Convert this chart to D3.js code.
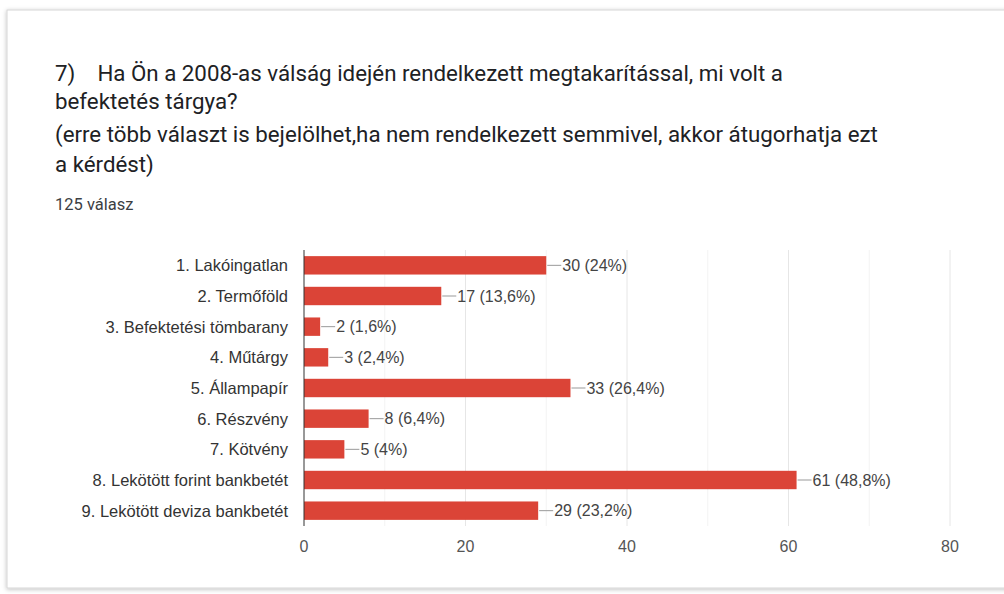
<!DOCTYPE html>
<html><head><meta charset="utf-8">
<script src="https://cdn.jsdelivr.net/npm/d3@7"></script>
<style>body{margin:0;background:#fff;} svg{display:block;}</style>
</head><body>
<svg id="c" width="1004" height="594"></svg>
<script>
const categories = ["1. Lakóingatlan","2. Termőföld","3. Befektetési tömbarany","4. Műtárgy","5. Állampapír","6. Részvény","7. Kötvény","8. Lekötött forint bankbetét","9. Lekötött deviza bankbetét"];
const values = [30,17,2,3,33,8,5,61,29];
const percents = ["24%","13,6%","1,6%","2,4%","26,4%","6,4%","4%","48,8%","23,2%"];
const xTicks = [0,20,40,60,80];
const titleLines = ["7)    Ha Ön a 2008-as válság idején rendelkezett megtakarítással, mi volt a","befektetés tárgya?","(erre több választ is bejelölhet,ha nem rendelkezett semmivel, akkor átugorhatja ezt","a kérdést)"];
const subtitle = "125 válasz";

const svg = d3.select("#c");
const defs = svg.append("defs");
const f = defs.append("filter").attr("id","sh").attr("x","-5%").attr("y","-5%").attr("width","110%").attr("height","110%");
f.append("feDropShadow").attr("dx",0).attr("dy",1).attr("stdDeviation",2).attr("flood-color","#000").attr("flood-opacity",0.25);

svg.append("rect").attr("x",7).attr("y",10).attr("width",1100).attr("height",578)
  .attr("fill","#fff").attr("stroke","#d6d6d6").attr("filter","url(#sh)");

const tys = [81,109,142,172];
svg.selectAll("text.t").data(titleLines).join("text").attr("class","t")
  .attr("x",55).attr("y",(d,i)=>tys[i]).attr("font-family","Roboto").attr("font-size",22.3)
  .attr("fill","#202124").attr("xml:space","preserve").style("white-space","pre").text(d=>d);
svg.append("text").attr("x",55).attr("y",210).attr("font-family","Roboto").attr("font-size",16.5)
  .attr("fill","#3c4043").text(subtitle);

const x = d3.scaleLinear().domain([0,80]).range([304,950]);
const y = d3.scaleBand().domain(categories).range([250,526]).paddingInner(0.4).paddingOuter(0.2);

const g = svg.append("g");
g.selectAll("line.grid").data(d3.range(10,81,10)).join("line")
  .attr("x1",d=>x(d)).attr("x2",d=>x(d)).attr("y1",250).attr("y2",526)
  .attr("stroke",d=>d%20===0?"#e6e6e6":"#f3f3f3").attr("stroke-width",1);

g.selectAll("rect.bar").data(values).join("rect")
  .attr("x",x(0)).attr("y",(d,i)=>y(categories[i])).attr("width",d=>x(d)-x(0)).attr("height",y.bandwidth())
  .attr("fill","#db4437");

g.append("line").attr("x1",x(0)).attr("x2",x(0)).attr("y1",250).attr("y2",526).attr("stroke","#333");

g.selectAll("line.lead").data(values).join("line")
  .attr("x1",d=>x(d)+1).attr("x2",d=>x(d)+15)
  .attr("y1",(d,i)=>y(categories[i])+y.bandwidth()/2).attr("y2",(d,i)=>y(categories[i])+y.bandwidth()/2)
  .attr("stroke","#999");
g.selectAll("text.val").data(values).join("text")
  .attr("x",d=>x(d)+16).attr("y",(d,i)=>y(categories[i])+y.bandwidth()/2).attr("dy","0.36em")
  .attr("font-family","Liberation Sans, Arial").attr("font-size",16).attr("fill","#444")
  .text((d,i)=>`${d} (${percents[i]})`);

g.selectAll("text.cat").data(categories).join("text")
  .attr("x",288).attr("y",d=>y(d)+y.bandwidth()/2).attr("dy","0.36em").attr("text-anchor","end")
  .attr("font-family","Liberation Sans, Arial").attr("font-size",16.5).attr("fill","#333").text(d=>d);

g.selectAll("text.tick").data(xTicks).join("text")
  .attr("x",d=>x(d)).attr("y",546).attr("dy","0.36em").attr("text-anchor","middle")
  .attr("font-family","Liberation Sans, Arial").attr("font-size",16).attr("fill","#555").text(d=>d);
</script>
</body></html>
